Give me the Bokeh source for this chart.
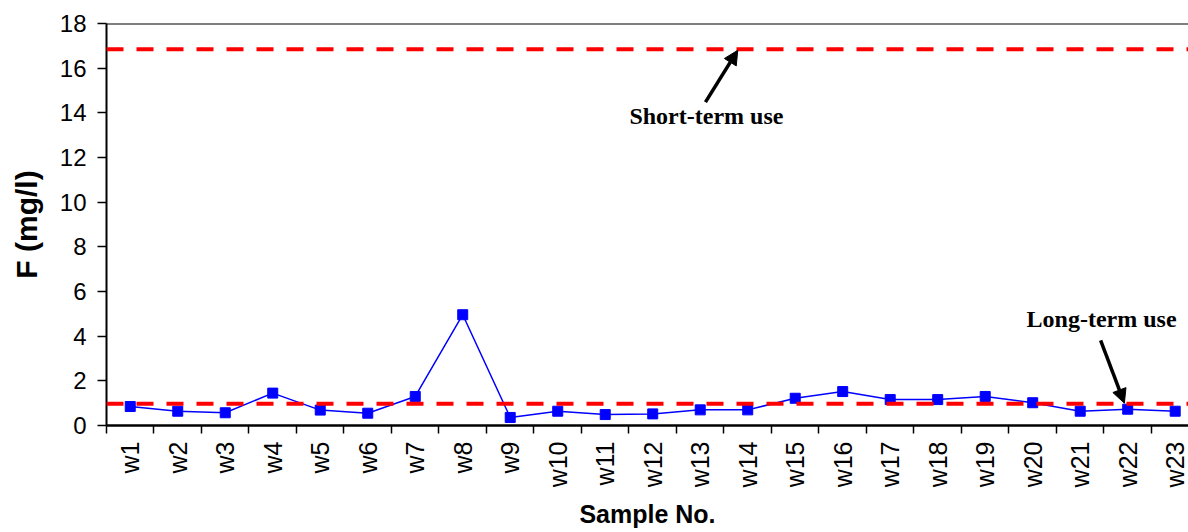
from bokeh.plotting import figure
from bokeh.models import (Range1d, FixedTicker, Span, Arrow, NormalHead, Label)
from bokeh.embed import file_html
from bokeh.resources import INLINE
import math

# ---- data ----
samples = ["w%d" % i for i in range(1, 24)]
fluoride = [0.85, 0.64, 0.57, 1.45, 0.69, 0.55, 1.30, 4.96, 0.36, 0.64, 0.49, 0.52,
            0.70, 0.70, 1.22, 1.52, 1.16, 1.16, 1.30, 1.02, 0.64, 0.73, 0.64]
short_term_limit = 16.85
long_term_limit = 0.97
y_ticks = [0, 2, 4, 6, 8, 10, 12, 14, 16, 18]

xpos = [i + 0.5 for i in range(len(samples))]

p = figure(width=1188, height=532, output_backend="svg", toolbar_location=None,
           x_range=Range1d(0, 22.78), y_range=Range1d(0, 18))
p.min_border_left = 106
p.min_border_right = 0
p.min_border_top = 23
p.min_border_bottom = 107
p.outline_line_color = None
p.grid.visible = False
p.background_fill_color = "white"
p.border_fill_color = "white"

# x axis: labels at centres, ticks at boundaries
p.xaxis.ticker = FixedTicker(ticks=xpos, minor_ticks=list(range(0, len(samples) + 1)))
p.xaxis.major_label_overrides = {x: s for x, s in zip(xpos, samples)}
p.xaxis.major_tick_line_color = None
p.xaxis.minor_tick_line_color = "black"
p.xaxis.minor_tick_line_width = 1.5
p.xaxis.minor_tick_out = 8
p.xaxis.minor_tick_in = 0
p.xaxis.axis_line_width = 2.5
p.xaxis.axis_line_color = "black"
p.xaxis.major_label_orientation = math.pi / 2
p.xaxis.major_label_text_font = "Liberation Sans"
p.xaxis.major_label_text_font_size = "25px"
p.xaxis.major_label_text_color = "black"
p.xaxis.major_label_standoff = 8
p.xaxis.axis_label = "Sample No."
p.xaxis.axis_label_text_font = "Liberation Sans"
p.xaxis.axis_label_text_font_style = "bold"
p.xaxis.axis_label_text_font_size = "25px"
p.xaxis.axis_label_text_color = "black"
p.xaxis.axis_label_standoff = 10

# y axis
p.yaxis.ticker = FixedTicker(ticks=y_ticks)
p.yaxis.minor_tick_line_color = None
p.yaxis.major_tick_in = 0
p.yaxis.major_tick_out = 9
p.yaxis.major_tick_line_width = 1.5
p.yaxis.axis_line_width = 2
p.yaxis.axis_line_color = "black"
p.yaxis.major_label_text_font = "Liberation Sans"
p.yaxis.major_label_text_font_size = "24px"
p.yaxis.major_label_text_color = "black"
p.yaxis.major_label_standoff = 11
p.yaxis.axis_label = "F (mg/l)"
p.yaxis.axis_label_text_font = "Liberation Sans"
p.yaxis.axis_label_text_font_style = "bold"
p.yaxis.axis_label_text_font_size = "30px"
p.yaxis.axis_label_text_color = "black"
p.yaxis.axis_label_standoff = 14

# top border
p.add_layout(Span(location=18, dimension="width", line_color="black", line_width=2))

# limit lines
p.add_layout(Span(location=short_term_limit, dimension="width", line_color="#ff0000",
                  line_width=4, line_dash="17 13"))
p.add_layout(Span(location=long_term_limit, dimension="width", line_color="#ff0000",
                  line_width=4, line_dash="17 13"))

# data
p.line(xpos, fluoride, line_color="#0000ff", line_width=1.5)
p.scatter(xpos, fluoride, marker="square", size=10, fill_color="#0000ff", line_color="#0000ff")

# annotations
p.add_layout(Arrow(end=NormalHead(size=14, fill_color="black", line_color="black"),
                   x_start=12.61, y_start=14.48, x_end=13.29, y_end=16.80,
                   line_color="black", line_width=3.5))
p.add_layout(Arrow(end=NormalHead(size=14, fill_color="black", line_color="black"),
                   x_start=20.93, y_start=3.81, x_end=21.43, y_end=1.0,
                   line_color="black", line_width=3.5))
p.add_layout(Label(x=12.63, y=13.84, text="Short-term use", text_align="center",
                   text_baseline="middle", text_font="Liberation Serif",
                   text_font_style="bold", text_font_size="24px", text_color="black"))
p.add_layout(Label(x=20.95, y=4.79, text="Long-term use", text_align="center",
                   text_baseline="middle", text_font="Liberation Serif",
                   text_font_style="bold", text_font_size="24px", text_color="black"))

open("out.html", "w").write(file_html(p, INLINE))
